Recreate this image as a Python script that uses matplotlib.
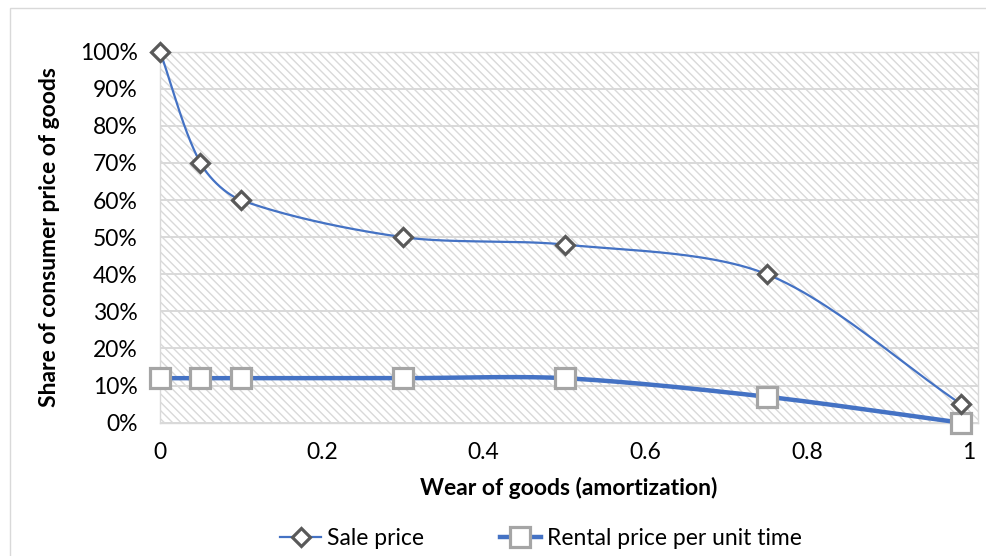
import numpy as np
import matplotlib
matplotlib.use("Agg")
import matplotlib.pyplot as plt
from matplotlib.patches import Rectangle
from matplotlib.lines import Line2D

# wear of goods and share of consumer price (%)
wear = [0, 0.05, 0.1, 0.3, 0.5, 0.75, 0.99]
sale_price = [100, 70, 60, 50, 48, 40, 5]
rental_price = [12, 12, 12, 12, 12, 7, 0]

x_ticks = [0, 0.2, 0.4, 0.6, 0.8, 1]
x_tick_labels = ["0", "0.2", "0.4", "0.6", "0.8", "1"]
y_ticks = [0, 10, 20, 30, 40, 50, 60, 70, 80, 90, 100]
y_tick_labels = [f"{v}%" for v in y_ticks]

BLUE = "#4472C4"
GRID = "#d9d9d9"

plt.rcParams["font.family"] = ["Lato", "DejaVu Sans"]
plt.rcParams["hatch.color"] = GRID
plt.rcParams["hatch.linewidth"] = 1.0

XMAX = 1.0105
AX_RECT = [0.1621, 0.2397, 0.8285, 0.6676]
FIG_W, FIG_H = 987, 556


def smooth(xs, ys, sx, sy, k=0.3, n=50):
    # bezier through the points with tangents worked out in pixel space
    pts = np.column_stack([np.asarray(xs, float) * sx, np.asarray(ys, float) * sy])
    m = len(pts)
    tang = []
    for i in range(m):
        a = pts[max(i - 1, 0)]
        b = pts[min(i + 1, m - 1)]
        d = b - a
        tang.append(d / np.hypot(*d))
    out = []
    for i in range(m - 1):
        p1, p2 = pts[i], pts[i + 1]
        seg_len = np.hypot(*(p2 - p1))
        c1 = p1 + tang[i] * seg_len * k
        c2 = p2 - tang[i + 1] * seg_len * k
        t = np.linspace(0, 1, n)[:, None]
        seg = ((1 - t) ** 3) * p1 + 3 * ((1 - t) ** 2) * t * c1 + 3 * (1 - t) * t ** 2 * c2 + t ** 3 * p2
        out.append(seg if i == 0 else seg[1:])
    curve = np.vstack(out)
    return curve[:, 0] / sx, curve[:, 1] / sy


fig = plt.figure(figsize=(FIG_W / 100, FIG_H / 100), dpi=100)
ax = fig.add_axes(AX_RECT)

# outer chart border
fig.add_artist(Rectangle((10 / FIG_W, -0.1), 1.2, 1 - 8 / FIG_H + 0.1, transform=fig.transFigure,
                         fill=False, edgecolor=GRID, lw=1.0))

ax.add_patch(Rectangle((0, 0), 1, 1, transform=ax.transAxes, fill=False,
                       hatch="\\\\\\\\", edgecolor=GRID, lw=0, zorder=0))

ax.set_xlim(0, XMAX)
ax.set_ylim(0, 100)
ax.set_yticks(y_ticks)
ax.set_yticklabels(y_tick_labels)
ax.set_xticks(x_ticks)
ax.set_xticklabels(x_tick_labels)
ax.yaxis.grid(True, color=GRID, lw=1.4, zorder=1)
ax.set_axisbelow(True)
for s in ax.spines.values():
    s.set_color(GRID)
    s.set_linewidth(1.0)
ax.tick_params(length=0, labelsize=16.5, colors="black")
ax.tick_params(axis="y", pad=16)
ax.tick_params(axis="x", pad=14)

px_x = AX_RECT[2] * FIG_W / XMAX
px_y = AX_RECT[3] * FIG_H / 100
sx, sy = smooth(wear, sale_price, px_x, px_y)
rx, ry = smooth(wear, rental_price, px_x, px_y)
ax.plot(sx, sy, color=BLUE, lw=1.6, zorder=3, clip_on=False)
ax.plot(rx, ry, color=BLUE, lw=3.2, zorder=3, clip_on=False)
ax.plot(wear, sale_price, ls="none", marker="D", ms=9, mfc="white", mec="#595959",
        mew=2.3, zorder=5, clip_on=False)
ax.plot(wear, rental_price, ls="none", marker="s", ms=14, mfc="white", mec="#a5a5a5",
        mew=2.3, zorder=4, clip_on=False)

ax.set_xlabel("Wear of goods (amortization)", fontsize=16.5, fontweight="bold", labelpad=10)
ax.set_ylabel("Share of consumer price of goods", fontsize=16.5, fontweight="bold", labelpad=14)

handles = [
    Line2D([], [], color=BLUE, lw=1.6, marker="D", ms=9, mfc="white", mec="#595959", mew=2.3),
    Line2D([], [], color=BLUE, lw=3.2, marker="s", ms=14, mfc="white", mec="#a5a5a5", mew=2.3),
]
fig.legend(handles, ["Sale price", "Rental price per unit time"], loc="center",
           bbox_to_anchor=(0.548, 0.032), ncol=2, frameon=False, fontsize=16.5,
           handlelength=1.8, handletextpad=0.25, columnspacing=3.3)

fig.savefig("out.png", dpi=100)
